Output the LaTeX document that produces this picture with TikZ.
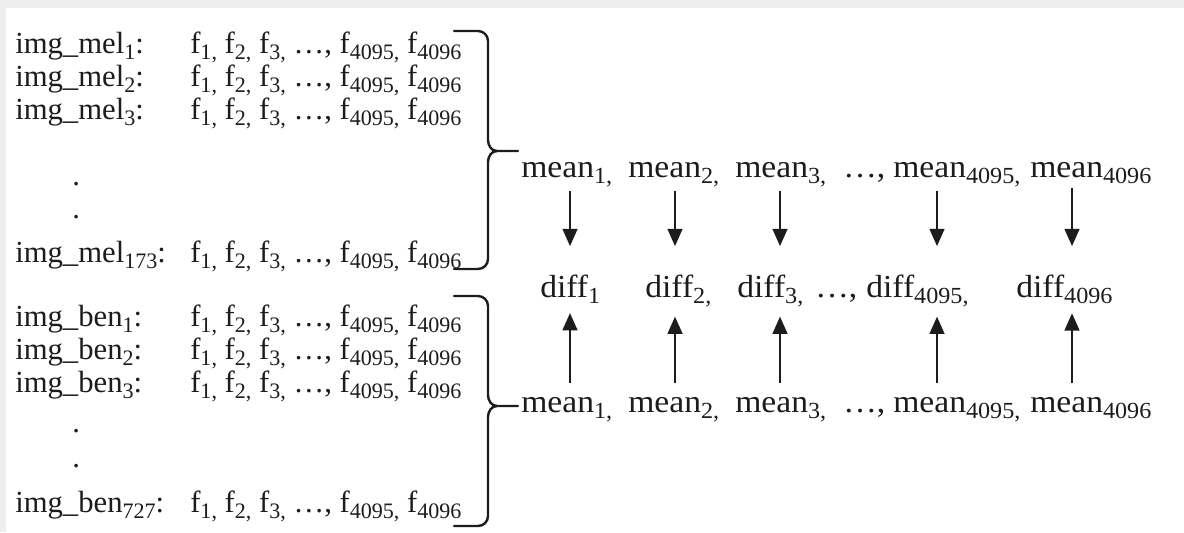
\documentclass[tikz,border=0pt]{standalone}
\usepackage{fontspec}
\usepackage{graphicx}
\setmainfont{Liberation Serif}
\newfontfamily\listfont{Liberation Serif}[FakeStretch=1.0]
\newfontfamily\meanfont{Liberation Serif}[FakeStretch=1.05]
\usetikzlibrary{arrows.meta}
\definecolor{ink}{HTML}{1C1C1C}
\definecolor{frame}{HTML}{EDEDED}
\newcommand\sub[1]{\raisebox{-0.2em}{\fontsize{0.72\dimexpr\csname f@size\endcsname pt\relax}{16}\selectfont #1}}
\newcommand\flist{f\sub{1,} f\sub{2,} f\sub{3,} …, f\sub{4095,} f\sub{4096}}
\begin{document}
\begin{tikzpicture}[x=0.75pt,y=-0.75pt,
  txt/.style={inner sep=0pt, anchor=base west, font=\fontsize{23}{25}\selectfont, text=ink},
  lst/.style={txt, font=\fontsize{23}{25}\selectfont\listfont},
  mn/.style={txt, font=\fontsize{24}{26}\selectfont\meanfont},
  dwn/.style={line width=1.8pt, draw=ink, -{Triangle[length=13pt,width=11pt]}, shorten <=3pt, shorten >=21pt},
  upw/.style={line width=1.8pt, draw=ink, -{Triangle[length=13pt,width=11pt]}, shorten <=10pt, shorten >=7pt},
  brace/.style={line width=1.8pt, draw=ink, line join=round, line cap=round}]
\useasboundingbox (0,0) rectangle (1184,532);
\fill[frame] (0,0) rectangle (1184,8);
\fill[frame] (0,0) rectangle (6,532);

% melanoma block
\node[txt] (ml1) at (15,53) {img\_mel\sub{1}:};
\node[lst] (fl1) at (190,53) {\flist};
\node[txt] (ml2) at (15,86) {img\_mel\sub{2}:};
\node[lst] (fl2) at (190,86) {\flist};
\node[txt] (ml3) at (15,119) {img\_mel\sub{3}:};
\node[lst] (fl3) at (190,119) {\flist};
\node[txt] (mdot1) at (72,185) {.};
\node[txt] (mdot2) at (72,218) {.};
\node[txt] (ml4) at (15,262) {img\_mel\sub{173}:};
\node[lst] (fl4) at (190,262) {\flist};

% benign block
\node[txt] (bl1) at (15,326) {img\_ben\sub{1}:};
\node[lst] (gl1) at (190,326) {\flist};
\node[txt] (bl2) at (15,359) {img\_ben\sub{2}:};
\node[lst] (gl2) at (190,359) {\flist};
\node[txt] (bl3) at (15,392) {img\_ben\sub{3}:};
\node[lst] (gl3) at (190,392) {\flist};
\node[txt] (bdot1) at (72,432) {.};
\node[txt] (bdot2) at (72,467) {.};
\node[txt] (bl4) at (15,512) {img\_ben\sub{727}:};
\node[lst] (gl4) at (190,512) {\flist};

% braces
\draw[brace] (454,31) -- (478,31) to[out=0,in=90] (488,41) -- (488,140)
  to[out=-90,in=180] (497,151) -- (518,151);
\draw[brace] (497,151) to[out=180,in=90] (488,162) -- (488,259)
  to[out=-90,in=0] (478,269) -- (454,269);
\draw[brace] (454,296) -- (478,296) to[out=0,in=90] (488,306) -- (488,395)
  to[out=-90,in=180] (497,406) -- (518,406);
\draw[brace] (497,406) to[out=180,in=90] (488,417) -- (488,516)
  to[out=-90,in=0] (478,526) -- (454,526);

% top mean row
\node[mn] (ta1) at (521,177) {mean\sub{1,}};
\node[mn] (ta2) at (628,177) {mean\sub{2,}};
\node[mn] (ta3) at (735,177) {mean\sub{3,}};
\node[mn] (tad) at (843,177) {…,};
\node[mn] (ta4) at (893,177) {mean\sub{4095,}};
\node[mn] (ta5) at (1030,177) {mean\sub{4096}};

% diff row
\node[mn] (d1) at (540,297) {diff\sub{1}};
\node[mn] (d2) at (645,297) {diff\sub{2,}};
\node[mn] (d3) at (737,297) {diff\sub{3,}};
\node[mn] (dd) at (815,297) {…,};
\node[mn] (d4) at (866,297) {diff\sub{4095,}};
\node[mn] (d5) at (1016,297) {diff\sub{4096}};

% bottom mean row
\node[mn] (ba1) at (521,412) {mean\sub{1,}};
\node[mn] (ba2) at (628,412) {mean\sub{2,}};
\node[mn] (ba3) at (735,412) {mean\sub{3,}};
\node[mn] (bad) at (843,412) {…,};
\node[mn] (ba4) at (893,412) {mean\sub{4095,}};
\node[mn] (ba5) at (1030,412) {mean\sub{4096}};

% arrow columns
\coordinate (c1) at (570,0);
\coordinate (c2) at (675,0);
\coordinate (c3) at (780,0);
\coordinate (c4) at (937,0);
\coordinate (c5) at (1072,0);

\foreach \i in {1,...,5}{
  \draw[dwn] (ta\i.south -| c\i) -- (d\i.north -| c\i);
  \draw[upw] (ba\i.north -| c\i) -- (d\i.south -| c\i);
}
\end{tikzpicture}
\end{document}
